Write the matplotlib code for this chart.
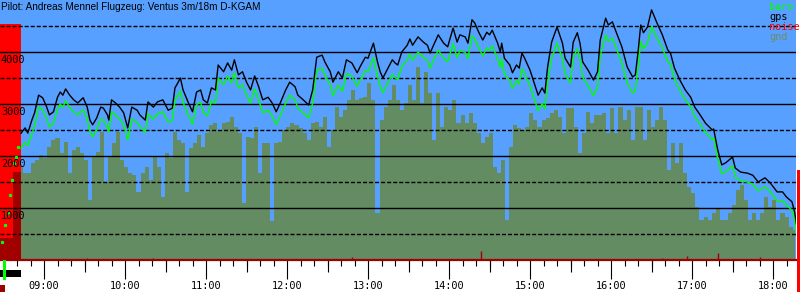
import numpy as np
import matplotlib.pyplot as plt
from matplotlib.patches import Rectangle
from matplotlib.ticker import FuncFormatter, MultipleLocator, FixedLocator

# Zeiten in Minuten nach 08:00, Hoehen in m
gps_t = [43, 46, 48, 51, 53, 56, 59, 62, 64, 67,
         70, 72, 74, 76, 79, 82, 85, 89, 92, 94,
         96, 99, 102, 104, 107, 108, 110, 113, 116, 119,
         122, 125, 129, 131, 135, 137, 141, 144, 148, 152,
         155, 157, 159, 161, 163, 167, 170, 173, 176, 178,
         181, 184, 187, 189, 193, 196, 199, 201, 204, 207,
         210, 213, 216, 219, 222, 226, 229, 232, 235, 239,
         242, 246, 248, 252, 256, 259, 262, 266, 268, 272,
         274, 278, 281, 284, 288, 292, 294, 298, 300, 304,
         307, 309, 311, 314, 318, 320, 322, 325, 329, 331,
         333, 337, 341, 344, 346, 348, 352, 356, 359, 363,
         366, 368, 372, 374, 377, 379, 382, 385, 388, 390,
         392, 396, 398, 399, 401, 405, 407, 410, 412, 414,
         416, 420, 424, 426, 429, 431, 433, 436, 440, 444,
         446, 450, 452, 455, 457, 459, 463, 467, 470, 472,
         476, 478, 481, 484, 488, 492, 496, 498, 500, 502,
         504, 507, 510, 514, 518, 522, 524, 527, 531, 535,
         539, 542, 546, 550, 555, 556, 559, 562, 565, 570,
         572, 576, 581, 585, 589, 594, 598, 603, 607, 610,
         614, 616, 618]
gps_alt = [2440, 2540, 2440, 2690, 2830, 3170, 3120, 2940, 2790, 2850,
           3130, 3230, 3170, 3290, 3170, 3080, 3020, 3120, 2940, 2690,
           2600, 2730, 2940, 2920, 2790, 2690, 3080, 3020, 2940, 2830,
           2540, 2940, 2880, 2790, 2690, 3040, 2940, 3040, 3080, 2880,
           2920, 3310, 3400, 3500, 3270, 3020, 2850, 3230, 3270, 3080,
           3020, 3310, 3270, 3750, 3620, 3790, 3650, 3850, 3560, 3620,
           3420, 3270, 3540, 3330, 3080, 3130, 3020, 2850, 3020, 3270,
           3420, 3330, 3170, 3080, 2980, 3270, 3900, 3940, 3810, 3620,
           3420, 3620, 3500, 3850, 3790, 3600, 3710, 3900, 3880, 4170,
           3810, 3620, 3500, 3650, 3850, 3790, 3750, 4000, 4130, 4250,
           4130, 4290, 4190, 4130, 3980, 4100, 4330, 4170, 4100, 4460,
           4190, 4330, 4290, 4170, 4620, 4560, 4380, 4230, 4380, 4330,
           4420, 4170, 4000, 4170, 3880, 3750, 3600, 3750, 3690, 3980,
           3880, 3650, 3330, 3170, 3310, 3210, 3710, 4190, 4480, 4170,
           3880, 3710, 4190, 4370, 4170, 3810, 3650, 3460, 3620, 4230,
           4650, 4520, 4580, 4370, 4100, 3710, 3520, 3560, 4000, 4520,
           4370, 4480, 4810, 4560, 4330, 4040, 3980, 3690, 3460, 3270,
           3130, 2940, 2790, 2630, 2500, 2520, 2120, 1830, 1870, 1980,
           1770, 1690, 1670, 1630, 1500, 1580, 1480, 1310, 1310, 1210,
           1120, 920, 580]
baro_alt = [2150, 2260, 2200, 2420, 2580, 2940, 2890, 2710, 2560, 2620,
            2900, 3000, 2940, 3060, 2940, 2850, 2790, 2890, 2710, 2460,
            2370, 2500, 2710, 2690, 2560, 2460, 2850, 2790, 2710, 2600,
            2310, 2710, 2650, 2560, 2460, 2810, 2710, 2810, 2850, 2650,
            2680, 3070, 3160, 3250, 3030, 2780, 2610, 2990, 3030, 2840,
            2770, 3060, 3020, 3500, 3370, 3540, 3400, 3600, 3310, 3370,
            3170, 3020, 3290, 3080, 2830, 2880, 2770, 2600, 2770, 3020,
            3170, 3080, 2920, 2830, 2730, 3020, 3650, 3690, 3560, 3370,
            3160, 3360, 3240, 3590, 3530, 3340, 3450, 3640, 3620, 3890,
            3530, 3340, 3220, 3370, 3570, 3510, 3470, 3720, 3850, 3960,
            3840, 4000, 3900, 3840, 3690, 3810, 4040, 3880, 3810, 4160,
            3890, 4030, 3990, 3870, 4310, 4260, 4080, 3930, 4080, 4030,
            4120, 3870, 3700, 3870, 3580, 3450, 3300, 3450, 3390, 3680,
            3580, 3350, 3030, 2870, 3010, 2910, 3410, 3880, 4170, 3870,
            3580, 3410, 3890, 4060, 3870, 3510, 3350, 3160, 3320, 3920,
            4330, 4210, 4270, 4060, 3790, 3400, 3210, 3250, 3690, 4200,
            4060, 4170, 4490, 4270, 4080, 3810, 3770, 3480, 3260, 3080,
            2950, 2760, 2610, 2450, 2320, 2340, 1950, 1660, 1700, 1810,
            1600, 1520, 1500, 1460, 1330, 1410, 1310, 1140, 1140, 1050,
            960, 770, 400]

# Gelaendehoehe, alle 3 Minuten ab 08:43
gnd_start = 43
gnd_step = 3
gnd_alt = [1790, 1670, 1670, 1870, 1920, 2020, 1960, 2170, 2310, 2350, 2060, 2270,
           1670, 2120, 2170, 2060, 1920, 1150, 1980, 2080, 2460, 1500, 1980, 2250,
           2460, 1920, 1790, 1670, 1630, 1310, 1670, 1790, 1540, 1980, 1790, 1210,
           2060, 1960, 2460, 2310, 2250, 1310, 2150, 2250, 2400, 2170, 2440, 2600,
           2630, 2500, 2630, 2650, 2750, 2560, 2440, 1100, 2370, 2350, 2560, 1670,
           2250, 2250, 750, 2250, 2270, 2500, 2560, 2630, 2600, 2540, 2440, 2310,
           2630, 2650, 2560, 2750, 2170, 2500, 2940, 2750, 2880, 3080, 3270, 3080,
           3120, 3130, 3400, 3080, 900, 2690, 2940, 3080, 3370, 3080, 2880, 3020,
           3370, 3080, 3710, 3020, 3620, 3210, 2310, 3210, 2560, 2940, 2880, 3080,
           2630, 2790, 2630, 2830, 2630, 2440, 2250, 2370, 2440, 1790, 1670, 1920,
           770, 2170, 2600, 2540, 2500, 2560, 2830, 2690, 2560, 2690, 2730, 2830,
           2880, 2750, 2440, 2920, 2920, 2560, 2060, 2440, 2850, 2630, 2790, 2790,
           2830, 2440, 2920, 2440, 2940, 2690, 2880, 2310, 2940, 2940, 2310, 2880,
           2560, 2690, 2940, 2690, 1730, 2250, 1870, 2250, 1670, 1400, 1290, 1020,
           770, 830, 770, 900, 1000, 770, 770, 900, 1060, 1350, 1440, 1150,
           770, 900, 770, 900, 1210, 1020, 1150, 770, 900, 830, 630, 580]

# Schlepp (baro Punkte vor dem Ausklinken)
tow_t = [28.9, 31.1, 33.3, 34.8, 36.3, 37.8, 39.3, 40.7]
tow_baro = [350, 670, 900, 1250, 1540, 1870, 1980, 2170]

# Motor-/Geraeuschpegel
noise_t = [92, 141, 288, 384, 518, 536, 559, 590]
noise_lvl = [30, 30, 60, 170, 40, 80, 135, 60]
noise_tow = [27.4, 43]
noise_tow_lvl = 4540

BLUE = '#58a0ff'
GND = '#638c63'
RED = '#ff0000'
DARK = '#a00000'
MONO = 'DejaVu Sans Mono'

fig = plt.figure(figsize=(8, 3), dpi=100)
ax = fig.add_axes([0, 40 / 300, 796 / 800, 260 / 300])
ax.set_facecolor(BLUE)
ax.set_xlim(27.4, 617)
ax.set_ylim(0, 5000)

gnd_t = gnd_start + gnd_step * np.arange(len(gnd_alt))
ax.fill_between(gnd_t, 0, gnd_alt, step='mid', color=GND, lw=0, zorder=1)

# Schlepp-Block
ax.fill_between(noise_tow, 0, noise_tow_lvl, color=RED, lw=0, zorder=2)
ax.fill_between([37, 43], 0, 1690, color=DARK, lw=0, zorder=2)
ax.fill_between(noise_tow, 0, 420, color=DARK, lw=0, zorder=2)
ax.vlines(noise_t, 0, noise_lvl, color=DARK, lw=1, zorder=2)

# Hilfslinien
for h in range(1000, 5000, 1000):
    ax.axhline(h, color='black', lw=1.0, zorder=3)
    ax.text(28.0, h - 55, str(h), fontsize=7.4, family=MONO,
            va='top', ha='left', zorder=6)
for h in range(500, 5000, 1000):
    ax.axhline(h, color='black', lw=1.0, dashes=(2.9, 1.45), zorder=3)

ax.plot(tow_t, tow_baro, ls='none', marker='s', ms=1.3, color='#00ff00', zorder=4)
ax.plot(gps_t, baro_alt, color='#00ff00', lw=1.0, zorder=4)
ax.plot(gps_t, gps_alt, color='black', lw=1.0, zorder=5)

for s in ['top', 'left', 'right']:
    ax.spines[s].set_visible(False)
ax.spines['bottom'].set_color(DARK)
ax.spines['bottom'].set_linewidth(1.6)
ax.set_yticks([])

ax.xaxis.set_major_locator(FixedLocator(range(60, 601, 60)))
ax.xaxis.set_minor_locator(MultipleLocator(10))
ax.xaxis.set_major_formatter(FuncFormatter(lambda m, p: f"{8 + int(m) // 60:02d}:{int(m) % 60:02d}"))
ax.tick_params(axis='x', which='major', length=14, width=0.8, color='black', pad=1.2,
               labelsize=7.4, direction='out')
ax.tick_params(axis='x', which='minor', length=4.3, width=0.8, color='black', direction='out')
for lab in ax.get_xticklabels():
    lab.set_family(MONO)
ax.vlines(range(30, 601, 60), 0, -12 / 260, transform=ax.get_xaxis_transform(),
          color='black', lw=0.8, clip_on=False)

fig.text(1 / 800, 1 - 7 / 300, 'Pilot: Andreas Mennel Flugzeug: Ventus 3m/18m D-KGAM',
         fontsize=7.2, family='Liberation Sans', va='center', ha='left')

legend = [('baro', '#00ff00'), ('gps', 'black'), ('noise', RED), ('gnd', '#6e8c64')]
for i, (name, col) in enumerate(legend):
    fig.text(769 / 800, 1 - (7 + 10 * i) / 300, name, color=col, fontsize=7.4,
             family=MONO, va='center', ha='left')


def px_rect(x0, y0, x1, y1, color):
    fig.patches.append(Rectangle((x0 / 800, 1 - y1 / 300), (x1 - x0) / 800, (y1 - y0) / 300,
                                 transform=fig.transFigure, color=color, lw=0, zorder=10))


px_rect(0, 270, 21, 277, 'black')
px_rect(3, 260, 6, 280, '#00ff00')
px_rect(0, 285, 5, 292, DARK)
px_rect(797, 170, 800, 292, RED)

fig.savefig('out.png', dpi=100, facecolor='white')
